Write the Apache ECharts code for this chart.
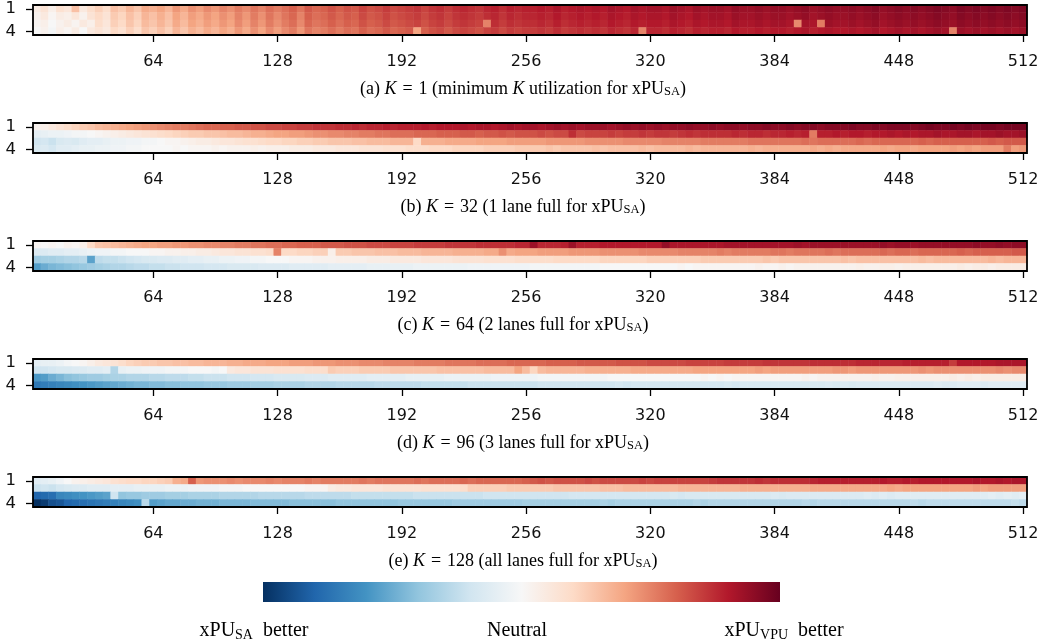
<!DOCTYPE html>
<html><head><meta charset="utf-8">
<script src="https://cdn.jsdelivr.net/npm/echarts@6/dist/echarts.min.js"></script>
<style>html,body{margin:0;padding:0;background:#fff}#c{width:1057px;height:643px}</style>
</head><body><div id="c"></div>
<script>
// categories and tick labels
const xCategories = Array.from({length: 128}, (_, i) => String(4 * (i + 1)));
const xTickLabels = ['64','128','192','256','320','384','448','512'];
const yCategories = ['1','2','3','4'];
const yTickLabels = ['1','4'];

// values in percent: -100 = strongest xPU_SA better, 100 = strongest xPU_VPU better
// (a) K = 1
const a1 = [8,14,6,16,12,30,10,18, 24,18,30,26,34,28,38,36, 40,34,44,38,46,42,48,44, 50,46,52,48,54,50,56,52, 56,60,54,62,58,60,64,60, 64,62,68,64,66,70,66,68, 70,72,68,72,74,70,74,76, 74,72,76,78,74,78,76,78, 78,80,78,82,78,80,82,80, 82,80,84,82,80,84,82,84, 84,82,86,84,82,86,84,86, 86,84,88,86,86,88,86,88, 88,86,88,90,86,88,90,88, 88,90,88,90,92,88,90,92, 90,92,90,92,94,92,90,94, 92,94,92,94,92,94,92,94];
const a2 = [4,10,2,8,6,12,4,14, 20,14,26,22,30,24,34,30, 36,30,40,34,42,38,44,40, 46,42,50,44,52,46,54,48, 54,58,50,60,56,58,62,58, 62,60,66,62,64,68,64,66, 68,70,66,70,72,68,72,74, 72,70,74,76,72,76,74,76, 76,78,76,80,76,78,80,78, 80,78,82,80,78,82,80,82, 82,80,84,82,80,84,82,84, 84,82,86,84,84,86,84,86, 86,84,86,88,84,86,88,86, 86,88,86,88,90,86,88,90, 88,90,88,90,92,90,88,92, 90,92,90,92,90,92,90,92];
const a3 = [2,6,0,4,8,3,10,6, 18,12,24,20,28,22,32,28, 34,28,38,32,40,36,42,38, 44,40,48,42,50,44,52,46, 52,56,48,58,54,56,60,56, 60,58,64,60,62,66,62,64, 66,68,64,68,70,66,70,72, 70,68,50,74,70,74,72,74, 74,76,74,78,74,76,78,76, 78,76,80,78,76,80,78,80, 80,78,82,80,78,82,80,82, 82,80,84,82,82,84,82,84, 84,82,48,84,82,52,86,84, 84,86,84,86,88,84,86,88, 86,88,86,88,90,88,86,90, 88,90,88,90,88,90,88,90];
const a4 = [0,4,-2,6,2,8,0,10, 14,10,20,16,24,18,28,24, 30,24,34,28,36,32,38,34, 40,36,44,38,46,40,48,42, 48,52,44,54,50,52,56,52, 56,54,60,56,58,62,58,60, 62,40,60,64,66,62,66,68, 66,64,68,70,66,70,68,70, 70,72,70,74,70,72,74,72, 74,72,76,74,72,76,50,76, 76,74,78,76,74,78,76,78, 78,76,80,78,78,80,78,80, 80,78,80,82,78,80,82,80, 80,82,80,82,84,80,82,84, 82,84,82,84,86,84,50,86, 84,86,84,86,84,86,84,86];
// (b) K = 32
const b1 = [4,6,10,14,18,22,26,28, 32,34,36,38,40,42,44,46, 48,50,52,52,54,56,58,58, 60,60,62,62,64,64,66,66, 68,68,70,70,72,72,72,74, 74,76,74,76,76,78,76,78, 78,78,80,78,80,80,80,82, 80,82,82,80,82,84,82,84, 84,82,84,86,84,86,84,86, 86,86,84,86,88,86,88,86, 88,86,88,88,90,88,88,90, 88,90,90,88,90,90,92,90, 90,92,90,92,92,90,92,92, 92,94,92,92,94,92,94,94, 94,92,94,96,94,94,96,94, 96,94,96,96,94,96,96,96];
const b2 = [-10,-8,-6,-6,-4,-2,-2,0, 2,4,6,8,10,12,14,16, 18,20,22,24,26,26,28,28, 30,32,32,34,36,36,38,40, 40,42,42,44,46,46,48,48, 50,50,52,52,54,54,56,56, 56,58,58,58,60,60,60,62, 62,60,62,62,64,62,64,64, 64,66,64,66,66,74,66,68, 68,68,70,68,70,70,72,70, 72,72,70,72,74,72,74,74, 74,74,76,74,76,76,74,76, 76,78,76,78,52,78,78,80, 78,80,80,78,80,80,82,80, 82,80,82,82,84,82,82,84, 84,82,84,84,86,84,84,86];
const b3 = [-20,-18,-22,-16,-14,-16,-12,-10, -10,-8,-6,-6,-4,-4,-2,-2, 0,2,2,4,6,8,8,10, 12,12,14,16,16,18,20,20, 22,22,24,24,26,26,28,28, 28,30,30,32,32,32,34,34, 34,20,36,36,36,38,38,38, 38,40,40,40,40,42,42,42, 42,42,44,44,44,44,44,46, 46,46,46,46,48,48,48,48, 48,50,50,50,50,50,52,52, 52,52,52,52,54,54,54,54, 54,54,54,56,54,56,56,56, 56,56,58,56,58,58,58,58, 58,58,60,58,60,60,60,60, 60,60,60,62,60,62,62,62];
const b4 = [-16,-14,-18,-12,-12,-10,-8,-8, -6,-6,-4,-4,-2,-2,0,0, 0,0,2,0,2,2,2,4, 2,4,4,4,6,4,6,6, 6,8,8,8,10,10,10,12, 12,12,14,14,14,16,16,16, 18,18,18,20,20,20,22,22, 22,22,24,24,24,24,26,26, 26,26,28,26,28,28,28,28, 30,28,30,30,30,30,32,30, 32,32,32,32,34,32,34,34, 34,34,34,34,36,34,36,36, 36,36,36,36,38,36,38,36, 38,38,38,38,38,40,38,40, 40,38,40,40,40,40,42,40, 42,40,42,42,42,52,42,44];
// (c) K = 64
const c1 = [2,0,2,0,4,2,6,20, 28,30,32,34,36,38,40,40, 42,42,44,44,46,46,48,48, 50,50,52,52,54,54,56,56, 58,58,60,60,60,62,62,62, 64,64,64,66,66,66,68,68, 68,70,70,70,70,72,72,72, 72,74,74,74,74,74,76,76, 86,76,76,76,78,86,78,78, 78,80,80,80,80,80,80,80, 80,88,82,82,82,82,82,82, 82,84,84,84,84,84,84,84, 84,84,86,84,86,86,86,86, 86,86,86,86,86,88,86,88, 88,86,88,88,88,88,88,88, 88,90,88,88,90,88,90,90];
const c2 = [-14,-14,-12,-12,-10,-10,-8,-6, -4,-4,-2,-2,0,0,0,2, 2,4,4,6,6,8,8,10, 12,12,14,14,16,16,18,50, 20,20,22,22,24,24,6,26, 26,28,28,28,30,30,30,32, 32,32,34,34,34,34,36,36, 36,36,38,38,46,38,40,40, 40,42,42,42,42,44,44,44, 44,46,46,46,46,46,48,48, 48,48,48,50,50,50,50,50, 52,50,52,52,52,52,52,54, 54,52,54,54,54,54,56,54, 56,56,56,56,56,58,56,58, 58,56,58,58,58,58,58,60, 58,60,60,60,60,60,62,62];
const c3 = [-36,-34,-34,-32,-30,-30,-28,-54, -26,-24,-24,-22,-20,-18,-16,-16, -14,-14,-12,-12,-10,-10,-8,-8, -6,-6,-4,-4,-2,-2,0,0, 0,2,2,2,4,4,4,6, 6,6,6,8,8,8,10,10, 10,10,12,12,12,12,14,14, 14,14,16,16,16,16,18,18, 18,18,18,20,20,20,20,20, 20,22,22,22,22,22,22,24, 24,24,24,24,24,24,26,26, 26,26,26,26,26,26,28,26, 28,28,28,28,28,28,28,28, 30,28,30,30,30,30,30,30, 30,30,32,30,32,32,32,32, 32,32,32,34,32,34,34,34];
const c4 = [-56,-50,-46,-44,-42,-40,-38,-36, -34,-32,-30,-30,-28,-26,-26,-24, -24,-22,-22,-20,-20,-20,-18,-18, -18,-16,-16,-16,-16,-14,-14,-14, -14,-12,-12,-12,-12,-12,-10,-10, -10,-10,-10,-8,-8,-8,-8,-8, -8,-6,-6,-6,-6,-6,-6,-6, -4,-4,-4,-4,-4,-4,-4,-4, -2,-2,-2,-2,-2,-2,-2,-2, -2,0,0,0,0,0,0,0, 0,0,0,2,0,2,2,2, 2,2,2,2,2,4,2,2, 4,2,4,4,4,4,4,4, 4,4,6,4,4,6,6,4, 6,6,6,6,6,6,6,8, 6,8,8,6,8,8,8,8];
// (d) K = 96
const d1 = [-10,-8,-8,-6,-2,0,2,6, 10,12,14,18,22,24,26,26, 28,28,30,30,32,32,34,34, 34,36,36,38,38,38,40,40, 40,42,42,42,44,44,44,46, 46,46,48,48,48,50,50,50, 50,52,52,52,52,54,54,54, 54,56,56,56,56,58,58,58, 58,58,60,60,60,60,62,62, 62,62,62,64,64,64,64,66, 66,66,66,66,68,68,68,68, 68,70,70,70,70,70,72,72, 72,72,72,72,74,74,74,74, 74,74,76,76,76,76,76,76, 78,78,78,78,78,78,70,80, 80,80,80,80,82,82,82,82];
const d2 = [-20,-20,-18,-16,-16,-14,-14,-12, -12,-10,-30,-8,-6,-6,-4,-4, -4,-2,-2,-2,0,0,0,-2, 0,10,12,12,14,14,14,16, 16,16,16,18,18,18,26,24, 24,24,26,26,26,26,28,28, 28,28,28,28,30,30,30,30, 30,30,32,32,32,32,40,32, 22,32,34,34,34,34,34,36, 36,36,36,36,36,38,38,38, 38,38,38,38,38,40,40,40, 40,40,40,40,40,42,40,42, 42,42,42,42,42,42,42,44, 44,42,44,44,44,44,44,44, 44,44,46,44,46,46,46,46, 46,46,46,46,48,46,48,48];
const d3 = [-58,-56,-50,-46,-42,-40,-38,-36, -36,-34,-32,-32,-30,-30,-30,-28, -28,-26,-26,-26,-24,-24,-22,-22, -22,-20,-20,-20,-18,-18,-18,-16, -16,-16,-16,-14,-14,-14,-12,-12, -12,-12,-12,-10,-10,-10,-10,-10, -8,-8,-8,-8,-8,-6,-6,-6, -6,-6,-6,-4,-4,-4,-4,-4, -4,-2,-2,-2,-2,-2,-2,-2, -2,-2,0,0,0,0,0,0, 0,0,0,0,0,0,2,0, 2,0,2,2,2,2,2,2, 2,2,2,4,2,4,4,4, 4,4,4,4,6,4,4,6, 6,6,6,6,6,6,8,6, 8,6,8,8,8,8,8,8];
const d4 = [-72,-70,-68,-66,-64,-62,-60,-58, -56,-54,-52,-50,-48,-46,-46,-44, -44,-42,-42,-40,-40,-40,-38,-38, -38,-36,-36,-36,-34,-34,-34,-32, -32,-32,-32,-30,-30,-30,-30,-28, -28,-28,-28,-28,-26,-26,-26,-26, -26,-26,-24,-24,-24,-24,-24,-24, -22,-22,-22,-22,-22,-22,-22,-22, -22,-20,-20,-20,-20,-20,-20,-20, -20,-20,-20,-18,-20,-18,-18,-18, -18,-18,-18,-18,-18,-18,-18,-18, -18,-16,-18,-16,-16,-16,-16,-16, -16,-16,-16,-16,-16,-16,-14,-16, -14,-16,-14,-14,-14,-14,-14,-14, -14,-14,-14,-14,-12,-14,-14,-12, -12,-12,-14,-12,-12,-12,-12,-12];
// (e) K = 128
const e1 = [-12,-10,-8,-4,0,4,6,8, 10,12,16,18,20,20,22,22, 24,26,36,38,60,44,46,46, 46,48,46,48,48,48,50,48, 50,50,50,52,50,52,52,52, 52,52,54,52,54,54,54,54, 54,56,54,56,56,56,56,58, 56,58,58,58,58,58,58,60, 62,64,62,64,64,64,64,66, 64,66,66,66,66,66,68,66, 68,68,68,68,68,68,68,70, 72,72,72,72,72,74,72,74, 74,74,74,74,76,78,78,78, 78,78,78,78,78,80,78,78, 80,78,80,80,80,80,80,80, 80,82,80,80,82,80,82,82];
const e2 = [-22,-20,-22,-18,-16,-14,-14,-12, -12,-12,-10,-10,-10,-8,-8,-8, -8,-6,-6,-6,-4,-4,-4,-4, -2,-2,-2,0,0,0,0,0, 0,0,0,2,2,2,8,10, 10,12,12,12,12,14,14,14, 14,14,16,16,16,16,16,18, 24,24,24,24,24,26,26,26, 26,26,26,28,28,28,28,28, 28,30,30,30,32,32,32,32, 32,32,32,34,34,34,34,34, 34,34,34,36,36,36,36,36, 36,36,36,36,38,38,38,38, 38,38,38,38,38,38,40,38, 40,40,40,40,40,40,40,40, 40,42,40,42,42,42,42,42];
const e3 = [-80,-78,-76,-66,-64,-62,-60,-58, -56,-54,-20,-40,-38,-38,-36,-36, -36,-34,-34,-34,-32,-32,-32,-32, -30,-30,-30,-30,-30,-28,-28,-28, -28,-28,-28,-26,-26,-26,-26,-26, -26,-24,-24,-24,-24,-24,-24,-24, -24,-22,-22,-22,-22,-22,-22,-22, -22,-22,-20,-20,-20,-20,-20,-20, -20,-20,-20,-20,-20,-18,-18,-18, -18,-18,-18,-18,-18,-18,-18,-18, -18,-18,-16,-18,-16,-16,-16,-16, -16,-16,-16,-16,-16,-16,-16,-14, -16,-14,-14,-14,-14,-14,-14,-14, -14,-14,-14,-12,-14,-12,-14,-12, -12,-12,-12,-12,-12,-12,-12,-12, -12,-12,-12,-10,-12,-10,-12,-10];
const e4 = [-100,-96,-88,-86,-80,-78,-76,-74, -72,-70,-68,-66,-64,-62,-28,-56, -54,-52,-52,-50,-50,-48,-48,-48, -46,-46,-46,-46,-44,-44,-44,-44, -44,-42,-42,-42,-42,-42,-42,-40, -40,-40,-40,-40,-40,-40,-40,-38, -38,-38,-38,-38,-38,-38,-36,-36, -36,-36,-36,-36,-36,-36,-36,-34, -34,-34,-34,-34,-34,-34,-34,-34, -34,-32,-34,-32,-32,-32,-32,-32, -32,-32,-32,-32,-32,-30,-32,-30, -30,-30,-30,-30,-30,-30,-30,-30, -30,-30,-30,-28,-30,-28,-28,-28, -28,-28,-28,-28,-28,-28,-28,-28, -28,-26,-28,-26,-26,-26,-26,-26, -26,-26,-26,-26,-26,-26,-24,-26];

const panelRows = [[a1,a2,a3,a4],[b1,b2,b3,b4],[c1,c2,c3,c4],[d1,d2,d3,d4],[e1,e2,e3,e4]];
const panelLetters = ['a','b','c','d','e'];
const kValues = ['1','32','64','96','128'];
const captionNotes = [
  '{n|minimum }{i|K}{n| utilization for xPU}',
  '{n|1 lane full for xPU}',
  '{n|2 lanes full for xPU}',
  '{n|3 lanes full for xPU}',
  '{n|all lanes full for xPU}'
];
const colorbarLabels = ['{n|xPU}{s|SA}{n|  better}', '{n|Neutral}', '{n|xPU}{s|VPU}{n|  better}'];
const cmap = ['#053061','#2166ac','#4393c3','#92c5de','#d1e5f0','#f7f7f7','#fddbc7','#f4a582','#d6604d','#b2182b','#67001f'];

// layout
const panelTops = [5, 123, 241, 359, 477];
const gridLeft = 33, gridWidth = 994, gridHeight = 30;
const tickFont = 'DejaVu Sans';
const serif = 'Liberation Serif';

const grids = [], xAxes = [], yAxes = [], series = [], graphics = [];
panelRows.forEach((rows, p) => {
  grids.push({left: gridLeft, top: panelTops[p], width: gridWidth, height: gridHeight,
    show: true, borderColor: '#000', borderWidth: 1.8, backgroundColor: 'transparent', z: 10});
  xAxes.push({type: 'category', gridIndex: p, data: xCategories, position: 'bottom',
    axisLine: {show: false},
    axisTick: {show: true, alignWithLabel: true, length: 7, lineStyle: {color: '#000', width: 1.3},
      interval: (i, v) => xTickLabels.includes(v)},
    axisLabel: {show: true, margin: 19, color: '#111', fontFamily: tickFont, fontSize: 16,
      interval: (i, v) => xTickLabels.includes(v)},
    splitLine: {show: false}});
  yAxes.push({type: 'category', gridIndex: p, data: yCategories, inverse: true,
    axisLine: {show: false},
    axisTick: {show: true, alignWithLabel: true, length: 7, lineStyle: {color: '#000', width: 1.3},
      interval: (i, v) => yTickLabels.includes(v)},
    axisLabel: {show: true, margin: 17, color: '#111', fontFamily: tickFont, fontSize: 16.5,
      interval: (i, v) => yTickLabels.includes(v)},
    splitLine: {show: false}});
  const data = [];
  rows.forEach((row, r) => row.forEach((v, c) => data.push([c, r, v])));
  series.push({type: 'heatmap', xAxisIndex: p, yAxisIndex: p, data: data, progressive: 0,
    itemStyle: {borderWidth: 0}, emphasis: {disabled: true}});
  const txt = '{n|(' + panelLetters[p] + ') }{i|K}{n|\u2004=\u2004' + kValues[p] + ' (}' + captionNotes[p] + '{s|SA}{n|)}';
  graphics.push({type: 'text', x: 523, y: panelTops[p] + 84, z: 20,
    style: {text: txt, align: 'center', verticalAlign: 'middle', textAlign: 'center', textVerticalAlign: 'middle',
      fill: '#000',
      rich: {
        n: {fontFamily: serif, fontSize: 18, lineHeight: 18, color: '#000'},
        i: {fontFamily: serif, fontStyle: 'italic', fontSize: 18, lineHeight: 18, color: '#000'},
        s: {fontFamily: serif, fontSize: 12.5, lineHeight: 5, verticalAlign: 'bottom', color: '#000'}
      }}});
});

// colorbar
const stops = cmap.map((c, i) => ({offset: i / (cmap.length - 1), color: c}));
graphics.push({type: 'rect', shape: {x: 263, y: 582, width: 517, height: 20},
  style: {fill: {type: 'linear', x: 0, y: 0, x2: 1, y2: 0, colorStops: stops}}});
const cbLabelX = [254, 517, 784];
colorbarLabels.forEach((t, i) => {
  graphics.push({type: 'text', x: cbLabelX[i], y: 631, z: 20,
    style: {text: t, align: 'center', verticalAlign: 'middle', textAlign: 'center', textVerticalAlign: 'middle',
      fill: '#000',
      rich: {
        n: {fontFamily: serif, fontSize: 20, lineHeight: 22, color: '#000'},
        s: {fontFamily: serif, fontSize: 14, lineHeight: 8, verticalAlign: 'bottom', color: '#000'}
      }}});
});

const chart = echarts.init(document.getElementById('c'), null, {renderer: 'canvas'});
chart.setOption({
  animation: false,
  backgroundColor: '#fff',
  grid: grids, xAxis: xAxes, yAxis: yAxes, series: series,
  visualMap: {show: false, type: 'continuous', min: -100, max: 100, dimension: 2,
    inRange: {color: cmap}},
  graphic: graphics
});
</script></body></html>
